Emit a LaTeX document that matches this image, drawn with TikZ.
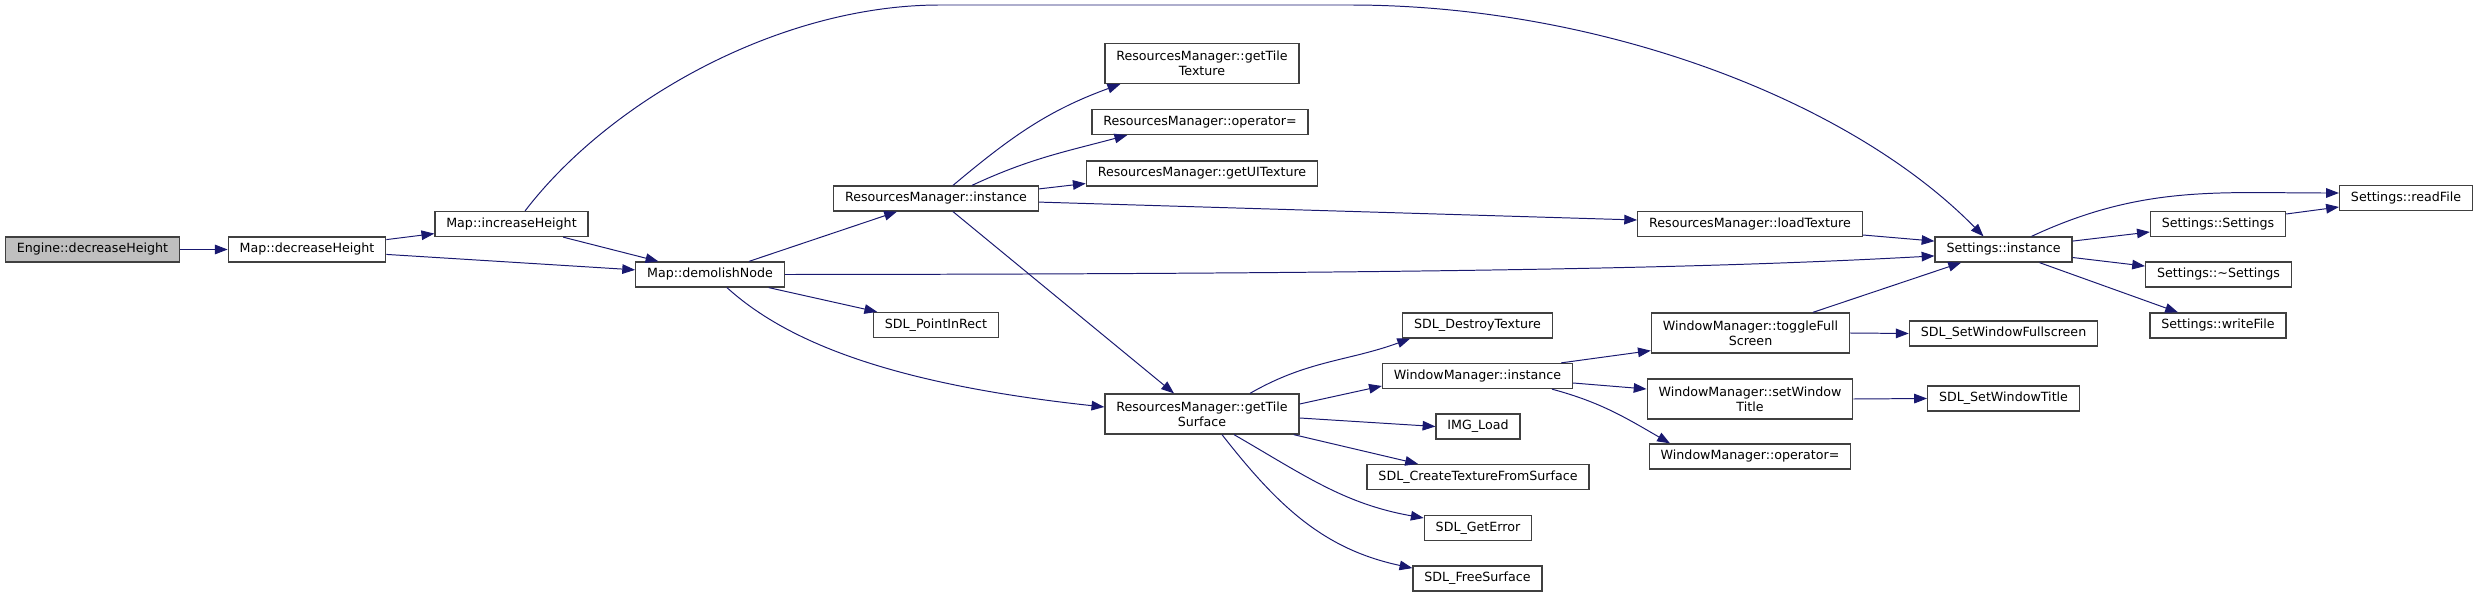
\documentclass[tikz,border=0pt]{standalone}
\usepackage{fontspec}
\setmainfont{DejaVu Sans}
\usetikzlibrary{arrows.meta}
\definecolor{edgeblue}{HTML}{191970}
\definecolor{boxline}{HTML}{404040}
\tikzset{
  >={Triangle[length=3.2mm,width=2.4mm]},
  fn/.style  ={draw=boxline, line width=0.9pt, fill=white, inner xsep=2.85mm, inner ysep=0.5mm, minimum height=6.25mm, align=center, font=\fontsize{9}{10.7}\selectfont},
  fntwo/.style={fn, minimum height=10mm},
  cur/.style ={fn, fill=black!25},
  call/.style={->, edgeblue, line width=0.7pt},
}

\begin{document}
\begin{tikzpicture}[x=0.25mm, y=-0.25mm]
  \useasboundingbox (0,0) rectangle (2477,597);
  % functions
  \node[cur] (eng) at (92.5,249.5) {Engine::decreaseHeight};
  \node[fn] (mdh) at (307,249.5) {Map::decreaseHeight};
  \node[fn] (mih) at (511.5,224) {Map::increaseHeight};
  \node[fn] (mdn) at (710,274.5) {Map::demolishNode};
  \node[fn] (rmi) at (936,198.5) {ResourcesManager::instance};
  \node[fn] (pir) at (936,325) {SDL\_PointInRect};
  \node[fntwo] (rgtt) at (1202,63.5) {ResourcesManager::getTile\\Texture};
  \node[fn] (rop) at (1200,122) {ResourcesManager::operator=};
  \node[fn] (rgui) at (1202,173.5) {ResourcesManager::getUITexture};
  \node[fntwo] (rgts) at (1202,414) {ResourcesManager::getTile\\Surface};
  \node[fn] (sdtx) at (1477.5,325.5) {SDL\_DestroyTexture};
  \node[fn] (wmi) at (1477.5,376) {WindowManager::instance};
  \node[fn] (img) at (1478,426.5) {IMG\_Load};
  \node[fn] (sctf) at (1478,477) {SDL\_CreateTextureFromSurface};
  \node[fn] (sge) at (1478,528) {SDL\_GetError};
  \node[fn] (sfs) at (1477.5,578.5) {SDL\_FreeSurface};
  \node[fn] (rlt) at (1750,224) {ResourcesManager::loadTexture};
  \node[fntwo] (wtf) at (1750.5,333) {WindowManager::toggleFull\\Screen};
  \node[fntwo] (wst) at (1750,399) {WindowManager::setWindow\\Title};
  \node[fn] (wop) at (1750,456.5) {WindowManager::operator=};
  \node[fn] (sin) at (2003.5,249.5) {Settings::instance};
  \node[fn] (swfs) at (2003.5,333.5) {SDL\_SetWindowFullscreen};
  \node[fn] (swt) at (2003.5,398.5) {SDL\_SetWindowTitle};
  \node[fn] (sset) at (2218,224) {Settings::Settings};
  \node[fn] (sdt) at (2218.5,274.5) {Settings::\textasciitilde Settings};
  \node[fn] (swf) at (2218,325.5) {Settings::writeFile};
  \node[fn] (srf) at (2406,198) {Settings::readFile};
  % calls
  \draw[call] (eng) -- (mdh);
  \draw[call] (mdh) -- (mih);
  \draw[call] (mdh) -- (mdn);
  \draw[call] (mih) -- (mdn);
  \draw[call] ([xshift=3.4mm]mih.north) .. controls (610,100) and (780,5) .. (940,5) -- (1350,5)
              .. controls (1600,5) and (1850,100) .. ([xshift=-5mm]sin.north);
  \draw[call] (mdn) -- (rmi);
  \draw[call] (mdn) -- (pir);
  \draw[call] (mdn.east) .. controls (1500,274) and (1750,266) .. ([yshift=-1.6mm]sin.west);
  \draw[call] ([xshift=4.25mm]mdn.south) .. controls (790,345) and (900,385) .. ([yshift=1.75mm]rgts.west);
  \draw[call] ([xshift=4.25mm]rmi.north) to[out=40,in=200] ([xshift=4mm]rgtt.south west);
  \draw[call] ([xshift=9mm]rmi.north) to[out=25,in=195] ([xshift=9mm]rop.south west);
  \draw[call] ([yshift=2.4mm]rmi.east) -- ([yshift=-2.5mm]rgui.west);
  \draw[call] ([yshift=-0.9mm]rmi.east) -- ([yshift=1mm]rlt.west);
  \draw[call] ([xshift=4.25mm]rmi.south) -- ([xshift=-7mm]rgts.north);
  \draw[call] ([yshift=-2.75mm]rlt.east) -- ([yshift=2.1mm]sin.west);
  \draw[call] ([xshift=12mm]rgts.north) to[out=30,in=200] ([xshift=2mm]sdtx.south west);
  \draw[call] ([yshift=2.5mm]rgts.east) -- ([yshift=-2.5mm]wmi.west);
  \draw[call] ([yshift=-1mm]rgts.east) -- (img.west);
  \draw[call] ([xshift=-1.5mm]rgts.south east) -- ([xshift=-15mm]sctf.north);
  \draw[call] ([xshift=8mm]rgts.south) to[out=-30,in=170] ([yshift=2.5mm]sge.west);
  \draw[call] ([xshift=5mm]rgts.south) to[out=-52,in=168] ([yshift=2.6mm]sfs.west);
  \draw[call] ([xshift=-3mm]wmi.north east) -- ([yshift=0.75mm]wtf.south west);
  \draw[call] ([yshift=-1.75mm]wmi.east) -- ([yshift=2.5mm]wst.west);
  \draw[call] ([xshift=18.6mm]wmi.south) to[out=-15,in=150] ([xshift=-20mm]wop.north);
  \draw[call] ([xshift=15.6mm]wtf.north) -- ([xshift=-10.6mm]sin.south);
  \draw[call] (wtf.east) -- (swfs.west);
  \draw[call] (wst.east) -- (swt.west);
  \draw[call] ([xshift=7mm]sin.north) to[out=25,in=180] ([yshift=1.25mm]srf.west);
  \draw[call] ([yshift=2.1mm]sin.east) -- ([yshift=-2mm]sset.west);
  \draw[call] ([yshift=-2mm]sin.east) -- ([yshift=2.1mm]sdt.west);
  \draw[call] ([xshift=9mm]sin.south) -- ([xshift=-10mm]swf.north);
  \draw[call] ([yshift=2.5mm]sset.east) -- ([yshift=-2.25mm]srf.west);
\end{tikzpicture}
\end{document}
